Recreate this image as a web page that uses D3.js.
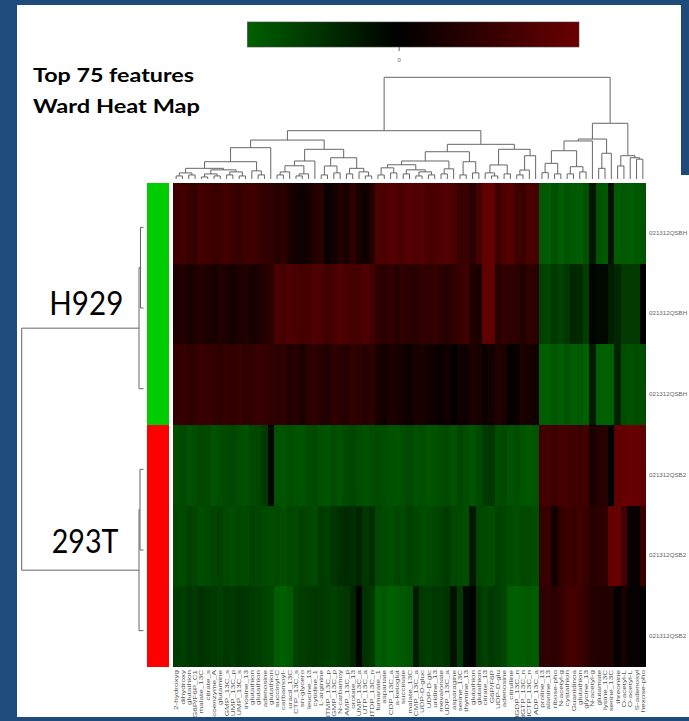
<!DOCTYPE html>
<html>
<head>
<meta charset="utf-8">
<script src="https://cdn.jsdelivr.net/npm/d3@7"></script>
<style>
  html, body { margin: 0; padding: 0; background: #1f4a7c; overflow: hidden; }
  svg { display: block; }
</style>
</head>
<body>
<svg id="chart" width="689" height="721"></svg>
<script>
// ---- data -------------------------------------------------------------
const features = [
  "2-hydroxyg","dihydroxy","glutathion","G6P/F6P_C1","malate_13C","citrate_s","coenzyme_A","glutamine",
  "GMP_13C_s","UMP_13C_p","UMP_13C_s","inosine_13","glutathion","glutathion","adenosine","glutathion",
  "succinyl-C","carbamoyl-","uracil_13C","CTP_13C_s","sn-glycero","leucine_13","cytidine_1","L-arginine",
  "dTMP_13C_p","GMP_13C_p","N-carbamoy","AMP_13C_p","orotate_13","UMP_13C_a","UTP_13C_a","dTDP_13C_n",
  "fumarate_1","aspartate","CDP_13C_a","a-ketoglut","succinate","malate_13C","CMP_13C_a","UDP-D-gluc",
  "UDP-D-glc","uridine_13","mevalonate","UDP_13C_a","asparagine","serine_13C","thymine_13","glutathion",
  "glutathion","citrate_13","G6P/F6P","UDP-D-glu","adenosine","citrulline","dGDP_13C_n","dGTP_13C_n",
  "dCTP_13C_n","ADP_13C_a","proline_13","alanine_13","ribose-pho","N-acetyl-g","cystathion","Guanidinoa",
  "glutathion","glycine_13","N-acetyl-g","glutamate","lysine_13C","serine_13C","threonine","O-acetyl-L",
  "O-acetyl-L","S-adenosyl","hexose-pho"
];

const samples = ["021312QSBH","021312QSBH","021312QSBH",
                 "021312QSB2","021312QSB2","021312QSB2"];
const sampleGroups = ["H929","H929","H929","293T","293T","293T"];
const groupNames = ["H929","293T"];
const groupColors = ["#00cc00","#ff0000"];

// scaled abundance per sample (one value per feature, in feature order)
const rowH929a = [
  0.85,0.9,0.8,0.75,0.95,0.9,0.8,0.85,0.95,0.8,0.75,0.85,0.9,0.8,0.7,0.65,
  0.55,0.6,0.4,0.25,0.2,0.3,0.45,0.6,0.15,0.3,0.45,0.4,0.65,0.35,0.2,0.5,
  1.1,1.05,1.15,1.1,1.05,1.2,1.1,1.15,1.0,1.05,1.1,1.2,1.05,
  0.75,0.85,0.6,1.0,1.35,1.4,0.85,1.1,1.2,0.9,0.8,1.05,1.0,
  -1.15,-1.2,-1.05,-1.2,-1.1,-1.15,-1.2,-1.05,-0.3,-1.1,-1.15,-0.25,-1.2,-1.15,-1.2,-1.15,-1.1
];
const rowH929b = [
  0.4,0.45,0.35,0.4,0.5,0.4,0.35,0.45,0.4,0.3,0.4,0.45,0.35,0.4,0.5,0.6,
  1.05,1.0,1.1,1.05,0.95,1.0,1.1,1.05,0.9,1.0,1.15,1.05,0.95,1.0,1.1,0.95,
  0.65,0.6,0.7,0.55,0.65,0.6,0.55,0.7,0.65,0.75,0.6,0.55,0.65,
  0.8,0.9,0.45,0.4,1.3,1.35,0.55,0.7,0.65,0.6,0.45,0.65,0.6,
  -0.85,-0.9,-0.75,-0.85,-0.7,-0.5,-0.55,-0.8,-0.05,-0.1,-0.1,-0.4,-0.5,-0.75,-0.75,-0.75,0.0
];
const rowH929c = [
  0.7,0.75,0.65,0.7,0.8,0.75,0.7,0.65,0.75,0.7,0.75,0.65,0.7,0.8,0.75,0.65,
  0.6,0.65,0.45,0.5,0.4,0.6,0.65,0.5,0.45,0.65,0.6,0.5,0.7,0.6,0.5,0.65,
  0.35,0.25,0.4,0.35,0.25,0.2,0.35,0.4,0.25,0.2,0.15,0.25,0.05,
  0.25,0.2,0.4,0.35,0.15,0.25,0.45,0.4,0.05,0.15,0.4,0.35,0.25,
  -1.2,-1.25,-1.15,-1.2,-1.1,-1.2,-1.15,-1.25,-0.35,-1.25,-1.25,-1.25,-0.45,-1.0,-1.05,-1.0,-1.0
];
const row293Ta = [
  -1.0,-0.95,-1.05,-1.0,-0.9,-0.95,-1.05,-1.0,-0.95,-0.9,-1.0,-1.05,-0.95,-0.9,-0.75,-0.1,
  -1.05,-1.1,-1.0,-1.05,-1.1,-1.0,-0.95,-1.05,-1.1,-1.0,-1.05,-0.95,-0.9,-1.0,-1.05,-1.0,
  -0.95,-1.0,-1.05,-1.1,-1.0,-0.95,-1.05,-1.0,-1.1,-1.05,-1.0,-0.95,-1.05,
  -0.9,-1.0,-1.05,-0.95,-0.75,-0.7,-1.0,-0.95,-1.05,-1.0,-1.1,-1.15,-1.1,
  0.9,0.95,0.85,1.0,0.95,0.9,0.85,0.95,0.35,0.5,0.55,0.0,1.35,1.4,1.45,1.4,1.35
];
const row293Tb = [
  -0.9,-0.95,-0.85,-0.9,-1.0,-0.95,-0.9,-0.85,-0.95,-1.0,-0.9,-0.95,-0.85,-0.9,-0.95,-1.0,
  -0.95,-1.0,-0.9,-0.95,-0.85,-0.9,-0.95,-0.75,-0.8,-0.7,-0.6,-0.55,-0.6,-0.5,-0.7,-0.6,
  -0.9,-0.95,-1.0,-0.9,-0.95,-0.85,-0.9,-1.0,-0.95,-0.9,-0.85,-0.75,-0.9,
  -0.95,-1.0,-0.35,-0.9,-0.95,-1.0,-0.85,-0.9,-0.95,-1.0,-0.9,-0.95,-1.0,
  0.75,0.8,0.25,0.7,0.85,0.8,0.9,0.75,0.55,0.6,0.65,1.4,1.45,0.95,0.15,0.1,0.8
];
const row293Tc = [
  -0.75,-0.8,-0.7,-0.75,-0.65,-0.7,-0.75,-0.8,-0.7,-0.75,-0.65,-0.7,-0.75,-0.8,-0.85,-0.9,
  -1.2,-1.25,-1.15,-0.85,-0.8,-0.75,-0.7,-0.75,-0.8,-0.85,-0.75,-0.7,-0.5,-0.05,-0.65,-0.75,
  -1.2,-1.15,-1.25,-1.2,-1.15,-1.1,-0.35,-0.75,-0.8,-0.7,-0.75,-0.65,-0.25,
  -0.75,-0.1,-0.05,-0.7,-0.85,-0.75,-0.8,-0.9,-1.2,-1.25,-1.2,-1.15,-1.2,
  0.65,0.7,0.6,0.75,0.9,0.95,0.85,0.7,0.5,0.45,0.45,0.45,0.05,0.35,0.1,0.1,0.05
];

// Ward clustering of features: [mergeHeight, left, right], leaves are feature indices
const featureTree =
  [100,
    [47.5,
      [38.3,
        [30.8,
          [17,
            [10.5, [6, [3,0,1], [4,2,3]], [9, [5, [2,4,5], [3,6,7]], [7, [4,8,9], [3,10,11]]]],
            [8, 12, [4,13,14]]],
          15],
        [29.2,
          [17.7, [13, [7, [4,16,17], 18], [5, [3,19,20], 21]], 22],
          [20.9, [12.8, [4,23,24], [6,25,26]], [10.5, [5,27,28], [7, 29, [3,30,31]]]]]],
      [34.1,
        [26.8,
          [17.7,
            [14, [11, [4,32,33], [6,34,35]], [9, [5,36,37], [7, [3,38,39], [4,40,41]]]],
            [10, [5,42,43], 44]],
          [17, [4,45,46], [6,47,48]]],
        [29.2,
          [13.8, [6, 49, [3,50,51]], [5,52,53]],
          [22.9, [8.8, [4,54,55], 56], 57]]]],
    [54.8,
      [39.3,
        [37.4,
          [27.8, [15.4, [6.2,58,59], [5,60,61]], [12.1, [5,62,63], [7,64,65]]],
          66],
        [25.3, [10.5,67,68], 69]],
      [22.9, [12.8,70,71], [20.9, 72, [19.5,73,74]]]]];

// Ward clustering of samples
const sampleTree = [121.8, [4.5, [3, 0, 1], 2], [4.5, [3.5, 3, 4], 5]];

// colour key
const keyDomain = [-1.25, 0, 1.49];
const keyColors = ["#006000", "#000000", "#6a0000"];
const keyTicks = [0];

const titleLines = ["Top 75 features", "Ward Heat Map"];

// ---- drawing ----------------------------------------------------------
const svg = d3.select("#chart");

// slide frame and white panel
svg.append("rect").attr("width", 689).attr("height", 721).attr("fill", "#1f4a7c");
svg.append("rect").attr("x", 17).attr("y", 5).attr("width", 664).attr("height", 712).attr("fill", "#ffffff");
svg.append("rect").attr("x", 640).attr("y", 175).attr("width", 49).attr("height", 542).attr("fill", "#ffffff");

const values = [rowH929a, rowH929b, rowH929c, row293Ta, row293Tb, row293Tc];

const x = d3.scaleBand().domain(d3.range(features.length)).range([173, 646]);
const y = d3.scaleBand().domain(d3.range(samples.length)).range([183, 667]);
const color = d3.scaleLinear().domain(keyDomain).range(keyColors).clamp(true);
const groupColor = d3.scaleOrdinal().domain(groupNames).range(groupColors);

// heat map cells
const cells = svg.append("g").attr("shape-rendering", "crispEdges");
values.forEach((row, r) => {
  cells.append("g").selectAll("rect").data(row).join("rect")
    .attr("x", (d, i) => x(i))
    .attr("y", y(r))
    .attr("width", x.bandwidth() + 0.4)
    .attr("height", y.bandwidth() + 0.4)
    .attr("fill", d => color(d));
});

// sample group side bar
svg.append("g").attr("shape-rendering", "crispEdges")
  .selectAll("rect").data(sampleGroups).join("rect")
  .attr("x", 147).attr("width", 22.3)
  .attr("y", (d, i) => y(i)).attr("height", y.bandwidth() + 0.4)
  .attr("fill", d => groupColor(d));

// dendrograms
function drawTree(g, tree, leafPos, hScale, vertical) {
  function walk(node) {
    if (typeof node === "number") return { p: leafPos(node), h: 0 };
    const [h, a, b] = node;
    const l = walk(a), r = walk(b);
    const H = hScale(h), L = hScale(l.h), R = hScale(r.h);
    const d = vertical
      ? `M${l.p},${L}V${H}H${r.p}V${R}`
      : `M${L},${l.p}H${H}V${r.p}H${R}`;
    g.append("path").attr("d", d);
    return { p: (l.p + r.p) / 2, h };
  }
  walk(tree);
}

const colH = d3.scaleLinear().domain([0, featureTree[0]]).range([179, 77.3]);
const colDendro = svg.append("g").attr("fill", "none").attr("stroke", "#666").attr("stroke-width", 1);
drawTree(colDendro, featureTree, i => x(i) + x.bandwidth() / 2, colH, true);

const rowH = d3.scaleLinear().domain([0, sampleTree[0]]).range([143.5, 21.7]);
const rowDendro = svg.append("g").attr("fill", "none").attr("stroke", "#666").attr("stroke-width", 1);
drawTree(rowDendro, sampleTree, i => y(i) + y.bandwidth() / 2 + 4, rowH, false);

// row labels
svg.append("g").selectAll("text").data(samples).join("text")
  .attr("x", 649)
  .attr("y", (d, i) => y(i) + y.bandwidth() / 2 + 9)
  .attr("dy", "0.35em")
  .attr("font-family", "Liberation Sans, Arial, sans-serif")
  .attr("font-size", 6.2)
  .attr("fill", "#666")
  .text(d => d);

// column labels, reading upward, hung from the bottom edge of the map
svg.append("g").selectAll("text").data(features).join("text")
  .attr("transform", (d, i) => `translate(${x(i) + x.bandwidth() / 2},670) rotate(-90) scale(1.35,1)`)
  .attr("text-anchor", "end")
  .attr("dy", "0.35em")
  .attr("font-family", "Liberation Sans, Arial, sans-serif")
  .attr("font-size", 6)
  .attr("fill", "#555")
  .text(d => d);

// colour key
const keyX = d3.scaleLinear().domain([keyDomain[0], keyDomain[2]]).range([247.4, 579]);
const defs = svg.append("defs");
const grad = defs.append("linearGradient").attr("id", "keygrad").attr("x1", "0").attr("x2", "1").attr("y1", "0").attr("y2", "0");
const stopVals = d3.range(0, 41).map(k => keyDomain[0] + k * (keyDomain[2] - keyDomain[0]) / 40).concat([0]).sort(d3.ascending);
grad.selectAll("stop").data(stopVals).join("stop")
  .attr("offset", v => (v - keyDomain[0]) / (keyDomain[2] - keyDomain[0]))
  .attr("stop-color", v => color(v));
svg.append("rect")
  .attr("x", keyX.range()[0]).attr("y", 22)
  .attr("width", keyX.range()[1] - keyX.range()[0]).attr("height", 25)
  .attr("fill", "url(#keygrad)")
  .attr("stroke", "#444").attr("stroke-width", 0.6);
const keyAxis = svg.append("g").attr("transform", "translate(0,47)")
  .call(d3.axisBottom(keyX).tickValues(keyTicks).tickSize(4).tickPadding(7).tickFormat(d3.format("d")));
keyAxis.select(".domain").remove();
keyAxis.selectAll(".tick line").attr("stroke", "#666");
keyAxis.selectAll(".tick text").attr("fill", "#666").attr("font-size", 6)
  .attr("font-family", "Liberation Sans, Arial, sans-serif");

// title
svg.append("g").selectAll("text").data(titleLines).join("text")
  .attr("x", 33)
  .attr("y", (d, i) => 81.7 + i * 31.3)
  .attr("font-family", "Lato, 'Open Sans', sans-serif")
  .attr("font-weight", "bold")
  .attr("font-size", 19)
  .attr("fill", "#000")
  .attr("textLength", (d, i) => [161, 167][i])
  .attr("lengthAdjust", "spacingAndGlyphs")
  .text(d => d);

// group names beside the sample dendrogram
const groupLabelPos = [{ x: 49.3, y: 315, w: 74 }, { x: 51.7, y: 553.3, w: 66.7 }];
svg.append("g").selectAll("text").data(groupNames).join("text")
  .attr("x", (d, i) => groupLabelPos[i].x)
  .attr("y", (d, i) => groupLabelPos[i].y)
  .attr("font-family", "Lato, 'Open Sans', sans-serif")
  .attr("font-size", 32)
  .attr("fill", "#000")
  .attr("textLength", (d, i) => groupLabelPos[i].w)
  .attr("lengthAdjust", "spacingAndGlyphs")
  .text(d => d);
</script>
</body>
</html>
